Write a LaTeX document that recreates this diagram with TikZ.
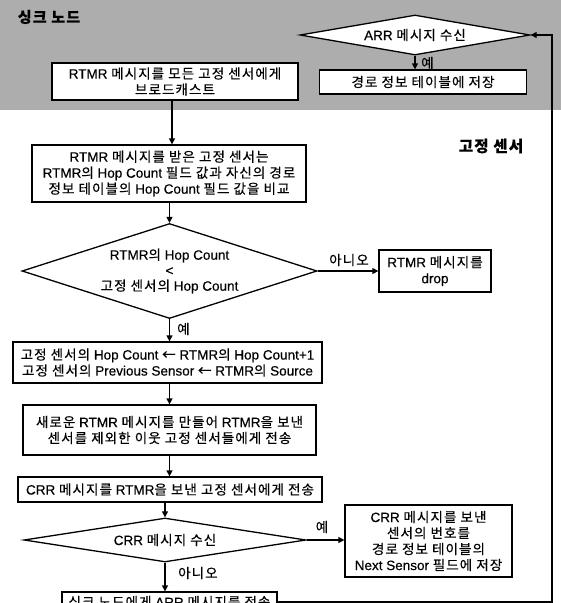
\documentclass[tikz,border=0pt]{standalone}
\usepackage{fontspec}
\setmainfont[FakeBold=0.4]{Liberation Sans}
\newfontfamily\kr[Scale=1.0,LetterSpace=8,FakeBold=0.4]{Noto Sans CJK KR}
\newcommand\K[1]{{\kr#1}}
\usetikzlibrary{shapes.geometric,arrows.meta}
\begin{document}
\begin{tikzpicture}[x=1pt,y=-1pt,
  box/.style={draw,fill=white,line width=1.3pt,inner sep=0pt,align=center,font=\fontsize{13.5}{16}\selectfont},
  dia/.style={draw,fill=white,diamond,line width=1.3pt,inner sep=0pt,align=center,font=\fontsize{13.5}{15.5}\selectfont},
  lbl/.style={inner sep=0pt,font=\fontsize{13.5}{15}\selectfont},
  arr/.style={line width=1.3pt,-{Triangle[length=6pt,width=6pt]}}]
\useasboundingbox (0,0) rectangle (561,603);
\fill[black!32] (0,0) rectangle (561,110);
\node[lbl,font=\bfseries\fontsize{15}{18}\selectfont] (sink) at (49,17) {\K{싱크 노드}};
\node[dia,shape aspect=5.75,minimum width=230pt,minimum height=40pt] (d1) at (415,35) {ARR \K{메시지 수신}};
\node[box,minimum width=207pt,minimum height=24pt] (store) at (423,82) {\K{경로 정보 테이블에 저장}};
\node[box,minimum width=246pt,minimum height=37pt] (b1) at (175,81.5) {RTMR \K{메시지를 모든 고정 센서에게}\\\K{브로드캐스트}};
\node[lbl,font=\bfseries\fontsize{15.5}{19}\selectfont] (fixed) at (491,146) {\K{고정 센서}};
\node[box,minimum width=274pt,minimum height=57pt] (b2) at (169,173.5) {RTMR \K{메시지를 받은 고정 센서는}\\RTMR\K{의} Hop Count \K{필드 값과 자신의 경로}\\\K{정보 테이블의} Hop Count \K{필드 값을 비교}};
\node[dia,shape aspect=3.1,minimum width=295pt,minimum height=95pt] (d2) at (169.5,271) {RTMR\K{의} Hop Count\\<\\\K{고정 센서의} Hop Count};
\node[box,minimum width=112pt,minimum height=42pt] (drop) at (435,271) {RTMR \K{메시지를}\\drop};
\node[box,minimum width=309pt,minimum height=41pt] (b3) at (167.5,362.5) {\K{고정 센서의} Hop Count \K{←} RTMR\K{의} Hop Count+1\\\K{고정 센서의} Previous Sensor \K{←} RTMR\K{의} Source};
\node[box,minimum width=293pt,minimum height=50pt] (b4) at (169.5,430) {\K{새로운} RTMR \K{메시지를 만들어} RTMR\K{을 보낸}\\\K{센서를 제외한 이웃 고정 센서들에게 전송}};
\node[box,minimum width=304pt,minimum height=25pt] (b5) at (170,489.5) {CRR \K{메시지를} RTMR\K{을 보낸 고정 센서에게 전송}};
\node[dia,shape aspect=6.4,minimum width=282pt,minimum height=44pt] (d3) at (165,540) {CRR \K{메시지 수신}};
\node[box,minimum width=167pt,minimum height=72pt] (b6) at (428.5,541) {CRR \K{메시지를 보낸}\\\K{센서의 번호를}\\\K{경로 정보 테이블의}\\Next Sensor \K{필드에 저장}};
\node[box,minimum width=215pt,minimum height=20pt] (b7) at (169.5,602) {\K{싱크 노드에게} ARR \K{메시지를 전송}};
\coordinate (c1) at (552,602);
\coordinate (c2) at (552,35);
\draw[arr] (d1.south) -- (d1.south |- store.north);
\node[lbl,anchor=west] (y1) at (421,63) {\K{예}};
\draw[arr] (b1.south -| 172,0) -- (172,0 |- b2.north);
\draw[arr] (b2.south -| d2.north) -- (d2.north);
\draw[arr] (d2.east) -- (drop.west |- d2.east);
\node[lbl] (n1) at (349,260) {\K{아니오}};
\draw[arr] (d2.south) -- (d2.south |- b3.north);
\node[lbl,anchor=west] (y2) at (177,329) {\K{예}};
\draw[arr] (b3.south -| d2.south) -- (d2.south |- b4.north);
\draw[arr] (b4.south -| d2.south) -- (d2.south |- b5.north);
\draw[arr] (b5.south -| d3.north) -- (d3.north);
\draw[arr] (d3.east) -- (b6.west |- d3.east);
\node[lbl] (y3) at (322,527) {\K{예}};
\draw[arr] (d3.south) -- (d3.south |- b7.north);
\node[lbl,anchor=west] (n2) at (178,573) {\K{아니오}};
\draw[arr] (b7.east) -- (c1) -- (c2) -- (d1.east);
\end{tikzpicture}
\end{document}
